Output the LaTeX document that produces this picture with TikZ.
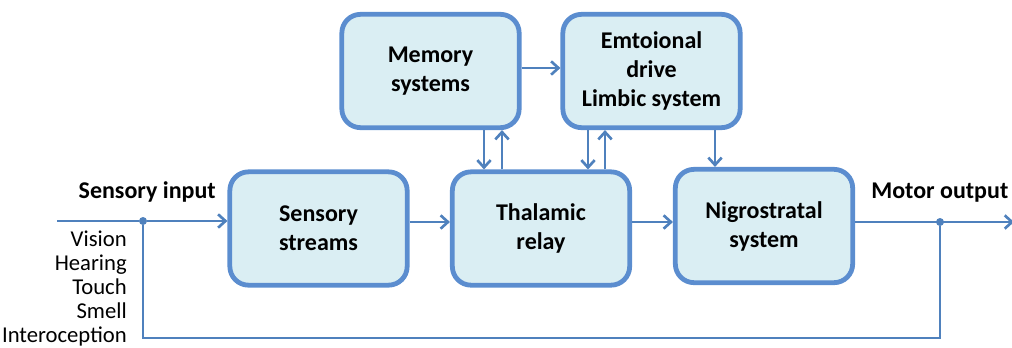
\documentclass[tikz,border=0pt]{standalone}
\usepackage{fontspec}
\setmainfont{Carlito}
\usetikzlibrary{arrows.meta}
\definecolor{boxfill}{HTML}{DAEEF3}
\definecolor{boxline}{HTML}{5B8DCF}
\definecolor{conn}{HTML}{4F81BD}
\tikzset{
  blk/.style={draw=boxline, line width=3.6pt, fill=boxfill, rounded corners=14pt,
    minimum width=133pt, minimum height=85pt, align=center, font=\bfseries\fontsize{18}{21.8}\selectfont},
  lnk/.style={draw=conn, line width=2pt, -{Straight Barb[length=5.5pt,width=10pt,line width=2pt]}},
  pl/.style={draw=conn, line width=2pt},
  lbl/.style={font=\bfseries\fontsize{18}{21}\selectfont, inner sep=0pt},
  sm/.style={font=\fontsize{17}{20}\selectfont, inner sep=0pt, anchor=base east},
  dotn/.style={circle, fill=conn, inner sep=0pt, minimum size=6pt}
}
\begin{document}
\begin{tikzpicture}[x=0.75pt,y=-0.75pt]
\useasboundingbox (0,0) rectangle (1012,347);
\node[blk] (ss) at (318.5,228.5) {Sensory\\streams};
\node[blk] (tr) at (541,228.5) {Thalamic\\relay};
\node[blk] (ns) at (764,226) {Nigrostratal\\system};
\node[blk] (ms) at (430.5,71) {Memory\\systems};
\node[blk] (em) at (651.5,71) {Emtoional\\drive\\Limbic system};
\coordinate (in) at (57,221);
\node[dotn] (j1) at (143,221) {};
\node[dotn] (j2) at (940,222) {};
\coordinate (out) at (1014,222);
\coordinate (b1) at (143,338);
\coordinate (b2) at (940,338);
\draw[pl] (in) -- (j1);
\draw[lnk] (j1) -- (ss.west |- 0,221);
\draw[lnk] (ss.east |- 0,222) -- (tr.west |- 0,222);
\draw[lnk] (tr.east |- 0,222) -- (ns.west |- 0,222);
\draw[lnk] (ns.east |- 0,222) -- (out);
\draw[pl] (j2) -- (b2) -- (b1) -- (j1);
\draw[lnk] (ms.east |- 0,68) -- (em.west |- 0,68);
\draw[lnk] (ms.south -| 484,0) -- (tr.north -| 484,0);
\draw[lnk] (tr.north -| 502,0) -- (ms.south -| 502,0);
\draw[lnk] (em.south -| 588,0) -- (tr.north -| 588,0);
\draw[lnk] (tr.north -| 605,0) -- (em.south -| 605,0);
\draw[lnk] (em.south -| 715,0) -- (ns.north -| 715,0);
\node[lbl, anchor=base east] (si) at (216,198) {Sensory input};
\node[lbl, anchor=base west] (mo) at (871,198) {Motor output};
\node[sm] (v) at (127,246) {Vision};
\node[sm] (h) at (127,270) {Hearing};
\node[sm] (t) at (127,294) {Touch};
\node[sm] (s) at (127,318) {Smell};
\node[sm] (i) at (127,342) {Interoception};
\end{tikzpicture}
\end{document}
